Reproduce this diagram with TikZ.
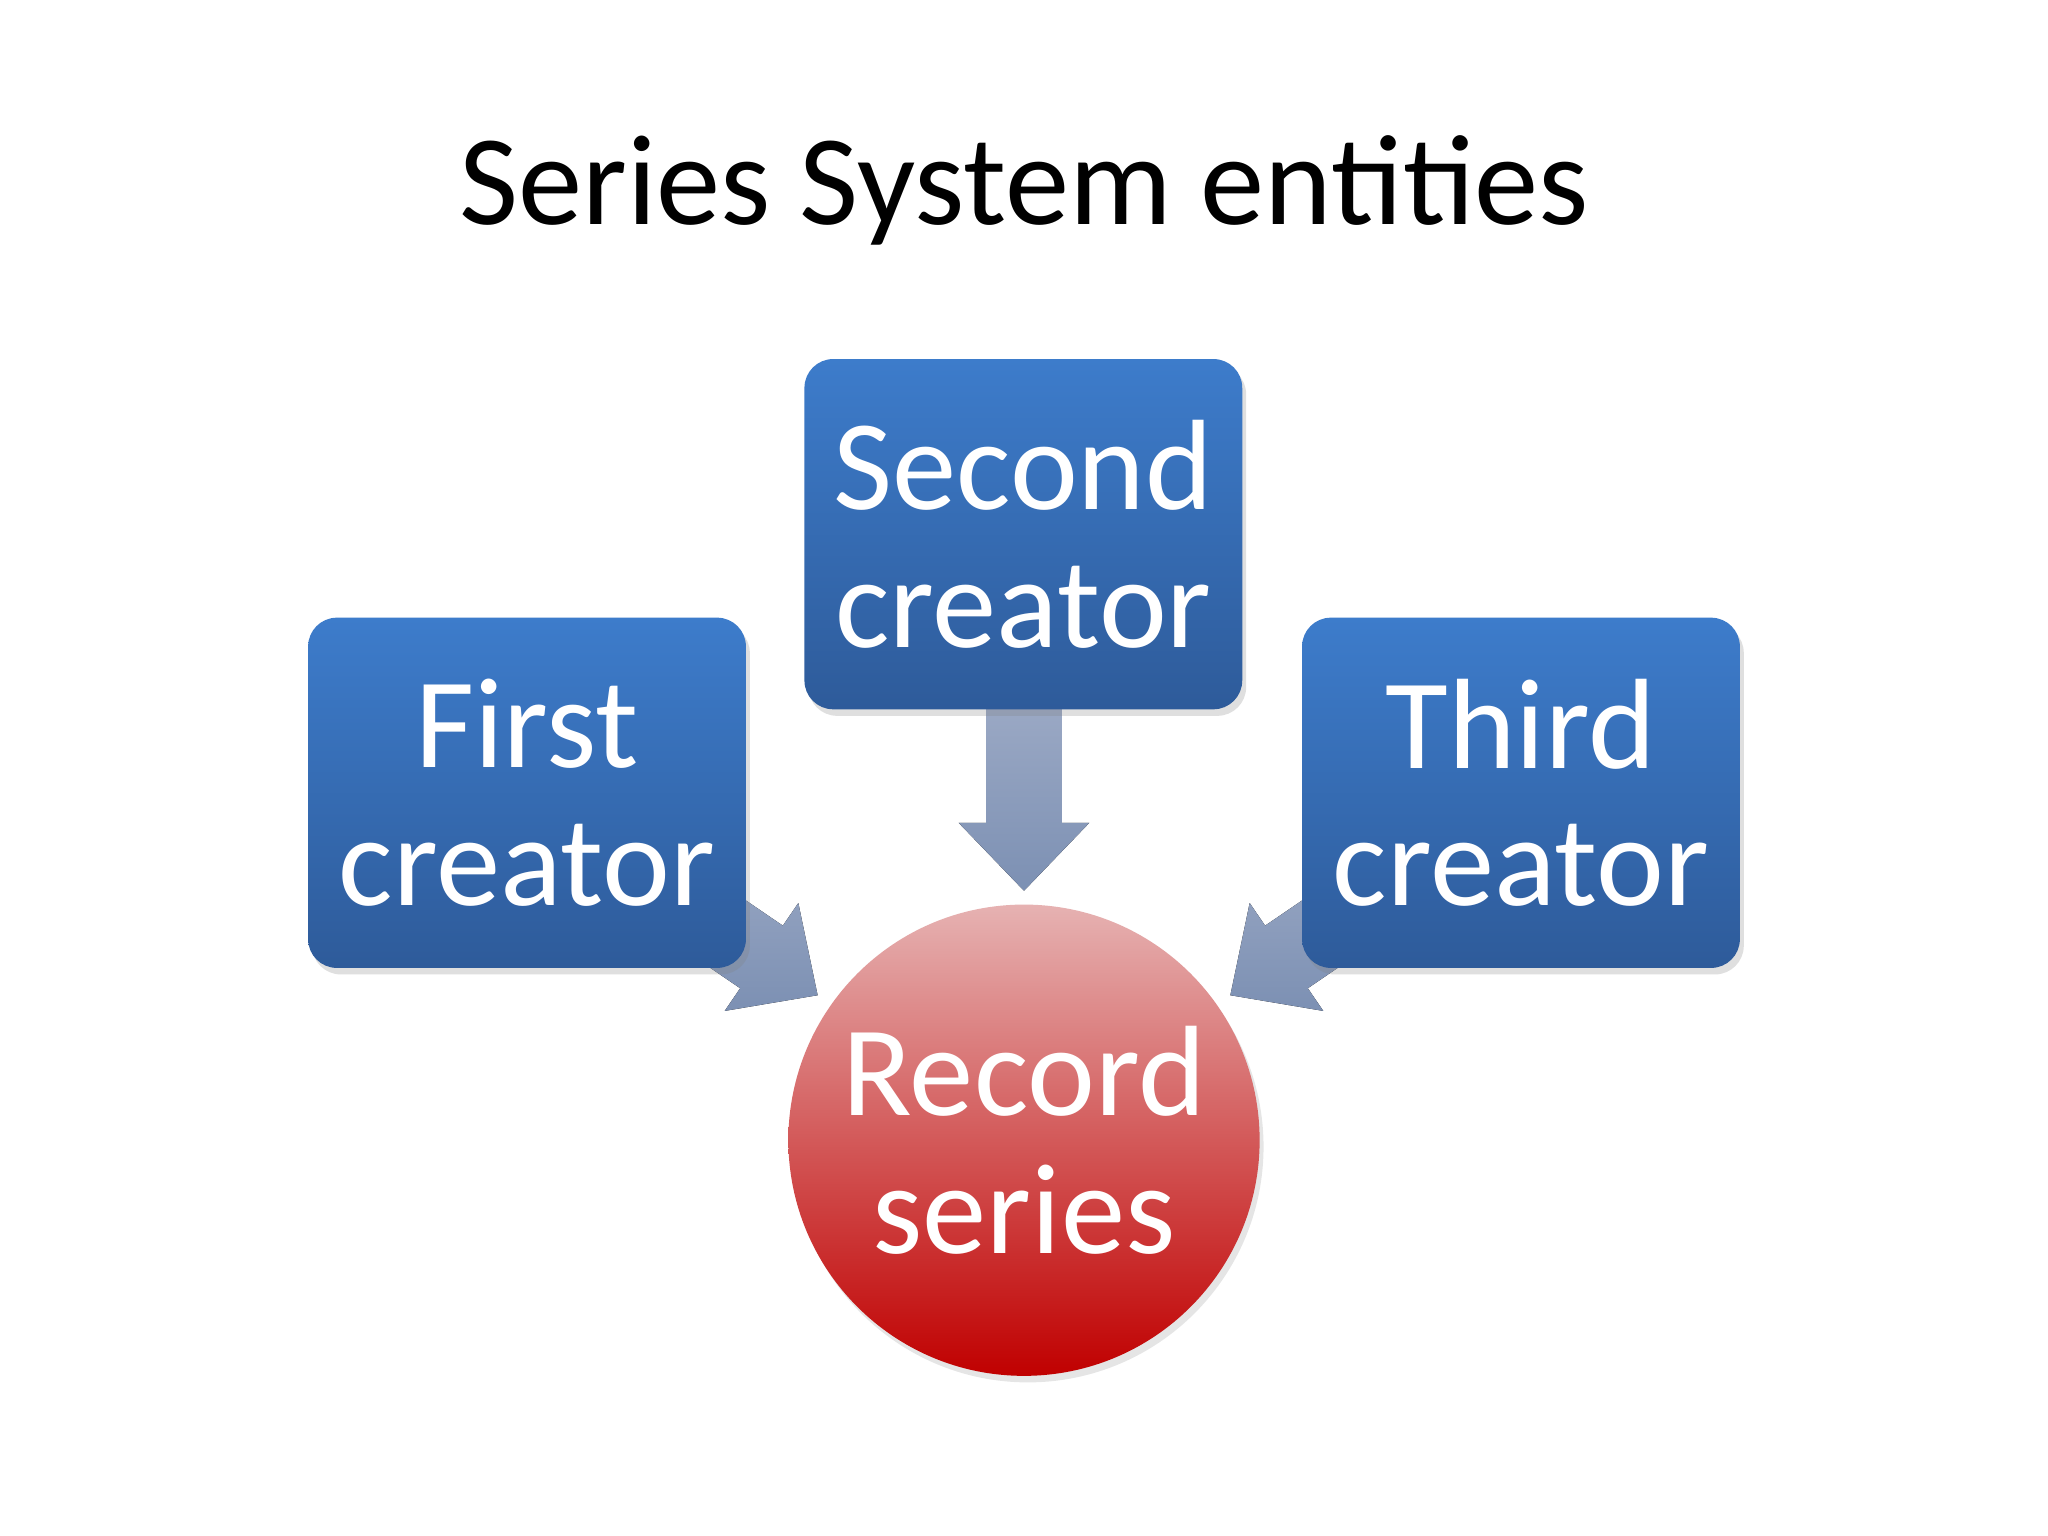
\documentclass[tikz,border=0pt]{standalone}
\usepackage{fontspec}
\setmainfont{Carlito}
\usetikzlibrary{shadows}
\tikzset{
  cbox/.style={rounded corners=0.22cm, minimum width=3.35cm, minimum height=2.68cm,
    top color=boxtop, bottom color=boxbot, draw=none, text=white, align=center,
    font=\fontsize{28}{30}\selectfont, drop shadow={shadow xshift=0.03cm, shadow yshift=-0.05cm, opacity=0.25}},
  arr/.style={top color=arrtop, bottom color=arrbot, draw=none}
}
\definecolor{boxtop}{HTML}{3D7CCB}
\definecolor{boxbot}{HTML}{2E5B9A}
\definecolor{arrtop}{HTML}{9AA8C4}
\definecolor{arrbot}{HTML}{7C90B3}
\definecolor{rtop}{HTML}{E6B2B2}
\definecolor{rbot}{HTML}{C00000}
\begin{document}
\begin{tikzpicture}[x=0.01cm,y=0.01cm]
\useasboundingbox[fill=white] (0,0) rectangle (1568,1176);
\node[font=\fontsize{28}{30}\selectfont] (title) at (784,1030) {Series System entities};
% arrows
\foreach \ax/\ay/\ang/\L in {784/494/-90/139, 626/414/-34.3/160, 942/414/214.3/160}{
  \begin{scope}[shift={(\ax,\ay)}, rotate=\ang]
    \fill[arr] (-\L,29) -- (-52,29) -- (-52,50) -- (0,0) -- (-52,-50) -- (-52,-29) -- (-\L,-29) -- cycle;
  \end{scope}
}
\node[cbox] (first) at (403.5,569) {First\\creator};
\node[cbox] (second) at (783.5,767) {Second\\creator};
\node[cbox] (third) at (1164.5,569) {Third\\creator};
\node[circle, minimum size=3.54cm, top color=rtop, bottom color=rbot, text=white, align=center,
  font=\fontsize{28}{30}\selectfont, drop shadow={shadow xshift=0.03cm, shadow yshift=-0.05cm, opacity=0.2}] (record) at (784,303) {Record\\series};
\end{tikzpicture}
\end{document}
